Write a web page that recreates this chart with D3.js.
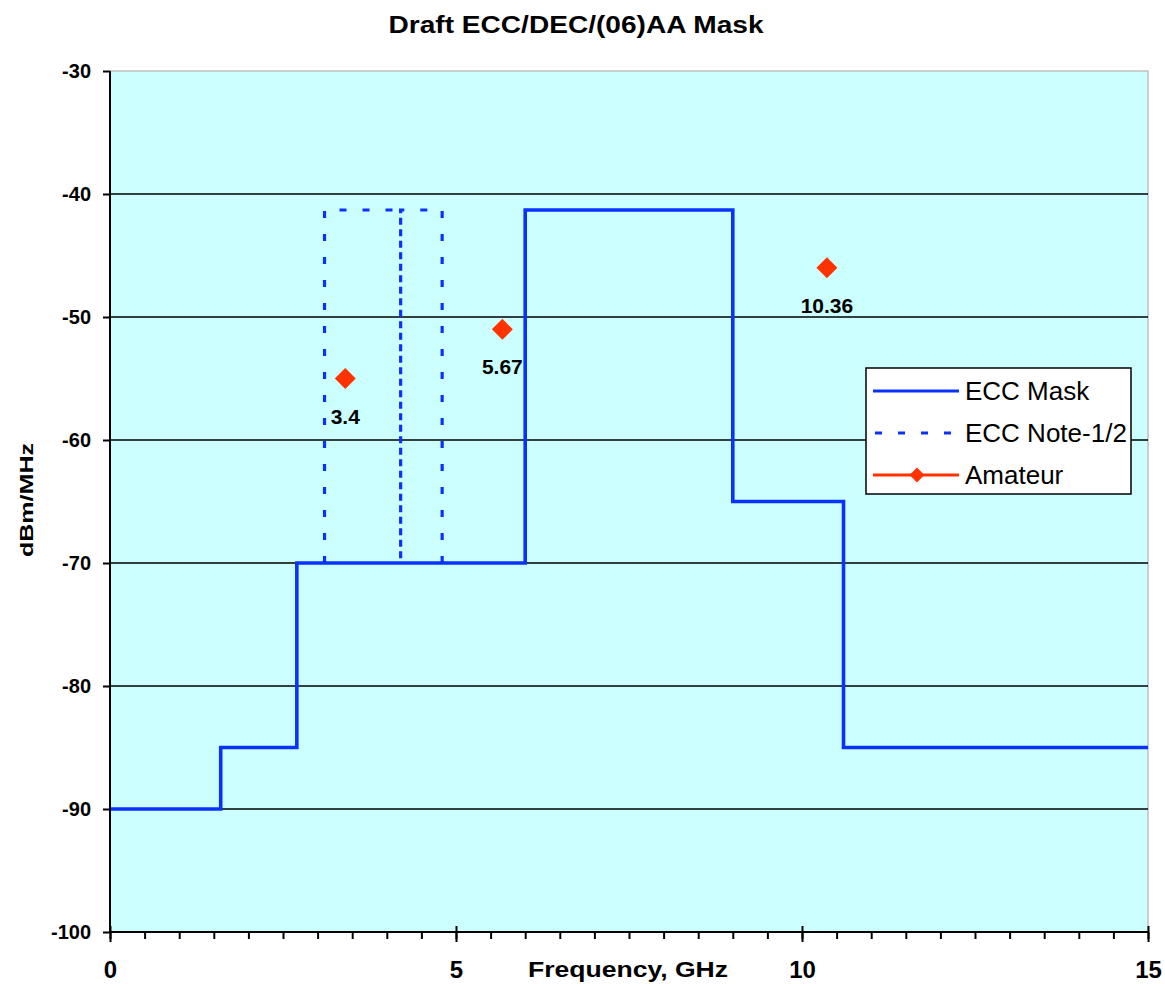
<!DOCTYPE html>
<html><head><meta charset="utf-8">
<script src="https://cdn.jsdelivr.net/npm/d3@7"></script>
<style>body{margin:0;background:#fff}text{font-family:Arial,"Liberation Sans",sans-serif}</style>
</head><body>
<svg id="c" width="1165" height="984"></svg>
<script>
// ---- data ----
const title = "Draft ECC/DEC/(06)AA Mask";
const xLabel = "Frequency, GHz";
const yLabel = "dBm/MHz";
const xTickValues = [0, 5, 10, 15];
const yTickValues = [-30, -40, -50, -60, -70, -80, -90, -100];
const gridValues = [-40, -50, -60, -70, -80, -90];

const maskFreq  = [0, 1.6, 1.6, 2.7, 2.7, 6, 6, 9, 9, 10.6, 10.6, 15];
const maskLevel = [-90, -90, -85, -85, -70, -70, -41.3, -41.3, -65, -65, -85, -85];

const note1Freq  = [3.1, 3.1, 4.2, 4.2];
const note1Level = [-70, -41.3, -41.3, -70];
const note2Freq  = [4.8, 4.8, 4.2, 4.2];
const note2Level = [-70, -41.3, -41.3, -70];

const amateurFreq  = [3.4, 5.67, 10.36];
const amateurLevel = [-55, -51, -46];
const amateurLabels = ["3.4", "5.67", "10.36"];

const legendNames = ["ECC Mask", "ECC Note-1/2", "Amateur"];

// ---- layout ----
const L = 110, R = 1148, T = 71, B = 932;
const blue = "#0a32ff", red = "#ff3300";
const svg = d3.select("#c");
const x = d3.scaleLinear().domain([0, 15]).range([L, R]);
const y = d3.scaleLinear().domain([-100, -30]).range([B, T]);

// plot background
svg.append("rect").attr("x", L).attr("y", T).attr("width", R - L).attr("height", B - T)
  .attr("fill", "#ccffff");
svg.append("path").attr("d", `M${L},${T}H${R}V${B}`).attr("fill", "none")
  .attr("stroke", "#c0c0c0").attr("stroke-width", 1.5);

// gridlines
svg.append("g").selectAll("line").data(gridValues).join("line")
  .attr("x1", L).attr("x2", R).attr("y1", d => y(d)).attr("y2", d => y(d))
  .attr("stroke", "#000").attr("stroke-width", 1.3);

// series
const line = d3.line().x(d => x(d[0])).y(d => y(d[1]));
const zip = (a, b) => a.map((v, i) => [v, b[i]]);

const p1 = svg.append("path").datum(zip(note1Freq, note1Level)).attr("d", line)
  .attr("fill", "none").attr("stroke", blue).attr("stroke-width", 3.2)
  .attr("stroke-dasharray", "7,16");
const p2 = svg.append("path").datum(zip(note2Freq, note2Level)).attr("d", line)
  .attr("fill", "none").attr("stroke", blue).attr("stroke-width", 3.2)
  .attr("stroke-dasharray", "7,16");
// interleave dashes on the shared vertical edge
const l1 = p1.node().getTotalLength(), l2 = p2.node().getTotalLength();
p2.attr("stroke-dashoffset", (l1 - l2 + 11.5) % 23);

svg.append("path").datum(zip(maskFreq, maskLevel)).attr("d", line)
  .attr("fill", "none").attr("stroke", blue).attr("stroke-width", 3.6)
  .attr("stroke-linejoin", "miter");

// amateur markers
const diamond = d3.symbol().type(d3.symbolSquare).size(220);
const am = svg.append("g").selectAll("g").data(zip(amateurFreq, amateurLevel)).join("g")
  .attr("transform", d => `translate(${x(d[0])},${y(d[1])})`);
am.append("path").attr("d", diamond).attr("transform", "rotate(45)").attr("fill", red);
am.append("text").text((d, i) => amateurLabels[i]).attr("y", 45).attr("text-anchor", "middle")
  .attr("font-size", 21).attr("font-weight", "bold").attr("fill", "#000");

// axes
const yAxis = svg.append("g").attr("transform", `translate(${L},0)`)
  .call(d3.axisLeft(y).tickValues(yTickValues).tickSize(7).tickPadding(12).tickFormat(d => String(d)));
yAxis.select(".domain").remove();
yAxis.selectAll("line").attr("stroke", "#000").attr("stroke-width", 2);
yAxis.selectAll("text").attr("font-size", 20).attr("font-weight", "bold")
  .attr("font-family", "Arial, 'Liberation Sans', sans-serif").attr("fill", "#000");

const xMinor = svg.append("g").attr("transform", `translate(0,${B})`)
  .call(d3.axisBottom(x).tickValues(d3.range(0, 15.01, 0.5)).tickSize(7).tickFormat(""));
xMinor.select(".domain").remove();
xMinor.selectAll("line").attr("stroke", "#000").attr("stroke-width", 2);

const xAxis = svg.append("g").attr("transform", `translate(0,${B})`)
  .call(d3.axisBottom(x).tickValues(xTickValues).tickSize(10).tickPadding(19).tickFormat(d => String(d)));
xAxis.select(".domain").remove();
xAxis.selectAll("line").attr("y1", -6).attr("stroke", "#000").attr("stroke-width", 2);
xAxis.selectAll("text").attr("font-size", 24).attr("font-weight", "bold")
  .attr("font-family", "Arial, 'Liberation Sans', sans-serif").attr("fill", "#000");

// axis lines
svg.append("line").attr("x1", L).attr("x2", L).attr("y1", T).attr("y2", B)
  .attr("stroke", "#000").attr("stroke-width", 2);
svg.append("line").attr("x1", L).attr("x2", R).attr("y1", B).attr("y2", B)
  .attr("stroke", "#000").attr("stroke-width", 2);

// titles
svg.append("text").text(title).attr("x", 576).attr("y", 33).attr("text-anchor", "middle")
  .attr("font-size", 23).attr("font-weight", "bold")
  .attr("textLength", 375).attr("lengthAdjust", "spacingAndGlyphs");
svg.append("text").text(xLabel).attr("x", 628).attr("y", 977).attr("text-anchor", "middle")
  .attr("font-size", 22).attr("font-weight", "bold")
  .attr("textLength", 200).attr("lengthAdjust", "spacingAndGlyphs");
svg.append("text").text(yLabel).attr("transform", "translate(33,500) rotate(-90)")
  .attr("text-anchor", "middle").attr("font-size", 19).attr("font-weight", "bold")
  .attr("textLength", 114).attr("lengthAdjust", "spacingAndGlyphs");

// legend
const lg = svg.append("g");
lg.append("rect").attr("x", 866).attr("y", 368).attr("width", 265).attr("height", 126)
  .attr("fill", "#fff").attr("stroke", "#000").attr("stroke-width", 1.5);
const rows = [391, 433, 475];
legendNames.forEach((name, i) => {
  const ly = rows[i];
  const ln = lg.append("line").attr("x1", 873).attr("x2", 959).attr("y1", ly).attr("y2", ly)
    .attr("stroke", i === 2 ? red : blue).attr("stroke-width", 3.2);
  if (i === 1) ln.attr("stroke-dasharray", "7,16").attr("stroke-dashoffset", -2);
  if (i === 2) lg.append("path").attr("d", d3.symbol().type(d3.symbolSquare).size(110))
    .attr("transform", `translate(917,${ly}) rotate(45)`).attr("fill", red);
  lg.append("text").text(name).attr("x", 965).attr("y", ly + 9)
    .attr("font-size", 26).attr("fill", "#000");
});
</script>
</body></html>
